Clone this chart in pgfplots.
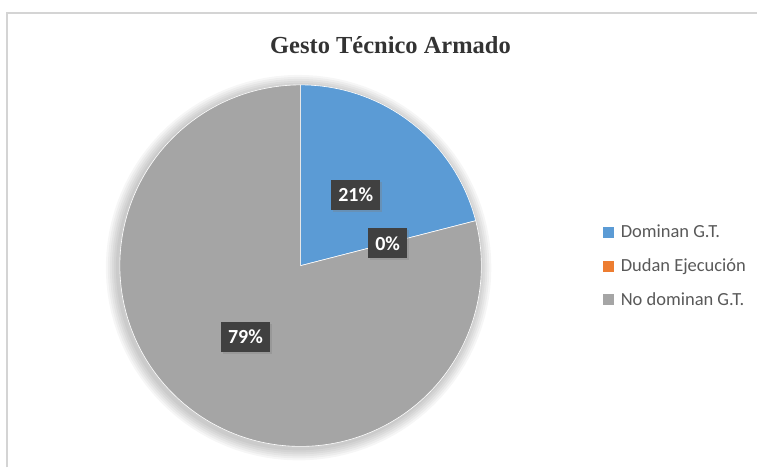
\documentclass[border=0pt]{standalone}
\usepackage{pgfplots}
\pgfplotsset{compat=1.18}
\usepackage{pgfplotstable}
\usetikzlibrary{shadows}
\usepackage{fontspec}
\setmainfont{Liberation Serif}
\newfontfamily\calibri{Carlito}
\definecolor{sA}{HTML}{5B9BD5}
\definecolor{sB}{HTML}{ED7D31}
\definecolor{sC}{HTML}{A5A5A5}
\definecolor{lblbox}{HTML}{404040}
\definecolor{framegray}{HTML}{D4D4D4}
\definecolor{legtext}{HTML}{595959}

\pgfplotstableread{
name value
A 21
B 0
C 79
}\piedata

\pgfplotstablegetelem{0}{value}\of\piedata \let\vA\pgfplotsretval
\pgfplotstablegetelem{1}{value}\of\piedata \let\vB\pgfplotsretval
\pgfplotstablegetelem{2}{value}\of\piedata \let\vC\pgfplotsretval
\pgfmathsetmacro{\aA}{90}
\pgfmathsetmacro{\aB}{\aA-3.6*\vA}
\pgfmathsetmacro{\aC}{\aB-3.6*\vB}
\pgfmathsetmacro{\aD}{\aC-3.6*\vC}
\pgfmathsetmacro{\mA}{(\aA+\aB)/2}
\pgfmathsetmacro{\mB}{(\aB+\aC)/2}
\pgfmathsetmacro{\mC}{(\aC+\aD)/2}
\def\cx{301}
\def\cy{202}
\def\R{181}

\begin{document}
\begin{tikzpicture}
\begin{axis}[x=1pt,y=1pt,xmin=0,xmax=758,ymin=0,ymax=468,hide axis,clip=false,
  anchor=origin, at={(0,0)},
  legend style={at={(axis cs:604,245)}, anchor=north west, draw=none, fill=none,
    font=\calibri\fontsize{18.5}{18.5}\selectfont, text=legtext, row sep=15.5pt,
    inner sep=0pt, /tikz/every odd column/.append style={column sep=5pt}},
  legend cell align=left,
  ]
% background
\addplot[forget plot, draw=none, fill=white] coordinates {(0,0) (758,0) (758,468) (0,468)} -- cycle;
% frame
\addplot[forget plot, draw=framegray, line width=2pt] coordinates {(7,0) (7,455) (758,455)};
% soft shadow
\foreach \k in {12,10,8,6,4,2}{
  \addplot[forget plot, draw=none, fill=black, fill opacity=0.035, domain=0:360, samples=120, variable=\t]
    ({\cx-2+(\R+\k)*cos(t)},{\cy-2+(\R+\k)*sin(t)}) -- cycle;
}
% slices
\addplot[forget plot, fill=sA, draw=white, line width=0.6pt, domain=\aB:\aA, samples=80, variable=\t]
  ({\cx+\R*cos(t)},{\cy+\R*sin(t)}) -- (\cx,\cy) -- cycle;
\addplot[forget plot, fill=sC, draw=white, line width=0.6pt, domain=\aD:\aC, samples=200, variable=\t]
  ({\cx+\R*cos(t)},{\cy+\R*sin(t)}) -- (\cx,\cy) -- cycle;
% legend
\addlegendimage{legend image code/.code={\fill[sA] (0pt,-5pt) rectangle (10pt,5pt);}}
\addlegendentry{Dominan G.T.}
\addlegendimage{legend image code/.code={\fill[sB] (0pt,-5pt) rectangle (10pt,5pt);}}
\addlegendentry{Dudan Ejecución}
\addlegendimage{legend image code/.code={\fill[sC] (0pt,-5pt) rectangle (10pt,5pt);}}
\addlegendentry{No dominan G.T.}
% title
\node[font=\bfseries\fontsize{24.5}{24.5}\selectfont, text=black!80] at (axis cs:391,423) {Gesto Técnico Armado};
% data labels
\tikzset{lbl/.style={fill=lblbox, text=white, font=\calibri\bfseries\fontsize{20}{20}\selectfont,
  inner xsep=7pt, inner ysep=8pt, drop shadow={opacity=0.35, shadow xshift=2pt, shadow yshift=-2pt}}}
\node[lbl] at (axis cs:{\cx+90*cos(\mA)},{\cy+90*sin(\mA)}) {\vA\%};
\node[lbl] at (axis cs:{\cx+90*cos(\mB)},{\cy+90*sin(\mB)}) {\vB\%};
\node[lbl] at (axis cs:{\cx+90*cos(\mC)},{\cy+90*sin(\mC)}) {\vC\%};
\end{axis}
\end{tikzpicture}
\end{document}
